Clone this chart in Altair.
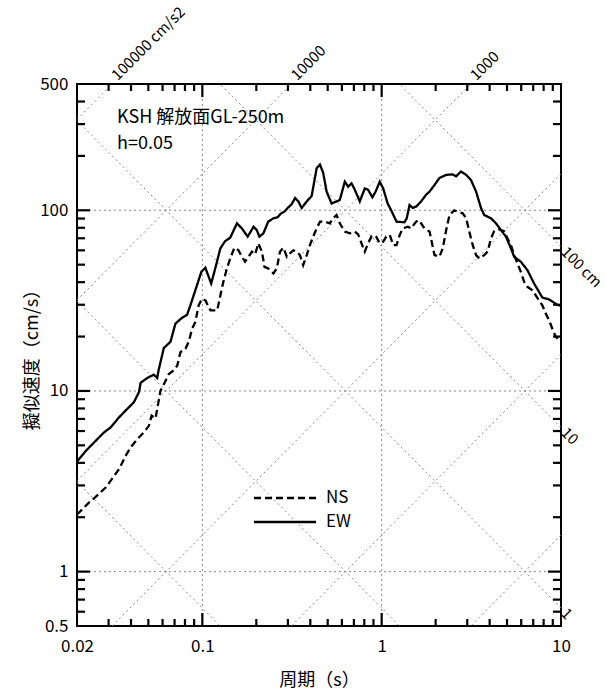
import math
import altair as alt
import pandas as pd

F = "Noto Sans CJK JP"

ew_T = [0.02, 0.0224, 0.0283, 0.0308, 0.0343, 0.0373, 0.0415, 0.0443, 0.0453, 0.0493,
        0.0536, 0.0560, 0.0572, 0.0610, 0.0664, 0.0708, 0.0771, 0.0822, 0.0858, 0.0914,
        0.0987, 0.104, 0.106, 0.112, 0.118, 0.126, 0.134, 0.143, 0.156, 0.166,
        0.179, 0.193, 0.201, 0.208, 0.219, 0.233, 0.249, 0.263, 0.275, 0.287,
        0.299, 0.315, 0.329, 0.343, 0.358, 0.382, 0.407, 0.434, 0.453, 0.472,
        0.493, 0.526, 0.560, 0.584, 0.623, 0.650, 0.679, 0.708, 0.755, 0.805,
        0.839, 0.888, 0.926, 0.975, 1.02, 1.08, 1.13, 1.21, 1.34, 1.38,
        1.43, 1.49, 1.56, 1.66, 1.77, 1.85, 1.97, 2.10, 2.29, 2.49,
        2.60, 2.77, 2.96, 3.15, 3.36, 3.58, 3.73, 4.07, 4.34, 4.62,
        4.93, 5.26, 5.48, 5.97, 6.50, 7.08, 7.55, 7.87, 8.58, 9.53, 10.0]
ew_Sv = [4.06, 4.66, 5.90, 6.28, 7.14, 7.78, 8.65, 9.84, 11.1, 11.8,
         12.3, 11.8, 13.2, 17.3, 18.7, 23.6, 25.4, 26.4, 29.8, 36.1,
         45.6, 48.1, 45.6, 39.3, 47.6, 61.5, 67.5, 70.5, 84.7, 79.4,
         71.5, 81.1, 77.8, 71.5, 74.5, 86.5, 90.3, 91.5, 96.2, 98.3,
         103, 108, 117, 112, 103, 112, 120, 171, 179, 161,
         127, 109, 112, 114, 144, 135, 141, 130, 112, 132,
         130, 118, 127, 144, 132, 109, 100, 86.5, 85.8, 90.3,
         107, 103, 105, 112, 122, 127, 138, 151, 157, 158,
         154, 164, 157, 147, 127, 103, 94.2, 90.3, 84.7, 77.8,
         71.5, 61.5, 55.3, 51.9, 46.6, 39.3, 35.3, 32.9, 32.1, 30.0, 29.6]

ns_T = [0.02, 0.0233, 0.0255, 0.0289, 0.0322, 0.0343, 0.0373, 0.0398, 0.0434, 0.0472,
        0.0503, 0.0521, 0.0548, 0.0560, 0.0584, 0.0610, 0.0650, 0.0693, 0.0724, 0.0755,
        0.0805, 0.0839, 0.0877, 0.0914, 0.0954, 0.0996, 0.104, 0.111, 0.121, 0.126,
        0.131, 0.137, 0.143, 0.151, 0.159, 0.166, 0.173, 0.181, 0.189, 0.197,
        0.205, 0.215, 0.222, 0.233, 0.249, 0.260, 0.271, 0.283, 0.296, 0.308,
        0.322, 0.336, 0.350, 0.365, 0.382, 0.398, 0.415, 0.434, 0.453, 0.483,
        0.514, 0.536, 0.560, 0.584, 0.623, 0.664, 0.708, 0.739, 0.772, 0.805,
        0.839, 0.877, 0.926, 0.975, 1.02, 1.06, 1.11, 1.16, 1.21, 1.26,
        1.31, 1.40, 1.46, 1.53, 1.59, 1.66, 1.73, 1.85, 1.97, 2.10,
        2.19, 2.29, 2.39, 2.54, 2.65, 2.83, 2.96, 3.08, 3.22, 3.36,
        3.50, 3.73, 3.90, 4.07, 4.24, 4.52, 4.82, 5.03, 5.26, 5.48,
        5.72, 5.97, 6.23, 6.50, 6.93, 7.23, 7.55, 7.87, 8.22, 8.58,
        8.95, 9.35, 10.0]
ns_Sv = [2.07, 2.41, 2.60, 2.92, 3.38, 3.69, 4.37, 4.87, 5.41, 5.90,
         6.41, 7.30, 7.05, 7.94, 10.0, 10.9, 12.4, 13.0, 13.8, 16.4,
         17.1, 18.7, 22.1, 24.1, 29.8, 32.4, 31.7, 27.9, 27.9, 33.8,
         40.2, 47.6, 54.1, 62.1, 60.1, 55.3, 51.9, 55.3, 59.0, 57.0,
         65.6, 59.0, 48.6, 47.6, 44.7, 47.6, 59.0, 62.1, 55.3, 57.7,
         60.1, 59.0, 56.5, 49.7, 56.5, 64.1, 71.5, 79.4, 86.5, 86.5,
         84.7, 90.3, 94.2, 84.7, 76.2, 74.5, 76.2, 73.6, 65.6, 59.0,
         65.6, 71.5, 72.3, 65.6, 67.0, 71.5, 72.9, 64.1, 64.1, 72.9,
         79.4, 81.1, 79.4, 84.7, 88.3, 84.7, 79.4, 76.2, 56.5, 55.3,
         61.5, 77.8, 94.2, 100, 98.3, 96.2, 90.3, 76.2, 64.1, 56.5,
         54.1, 56.5, 59.0, 69.9, 76.7, 78.4, 76.7, 69.9, 64.1, 56.5,
         50.8, 45.6, 40.2, 37.7, 36.1, 33.8, 31.7, 29.8, 26.8, 24.6,
         22.1, 19.9, 18.7]

series_names = ["NS", "EW"]

acc_vals = [1, 10, 100, 1000, 10000, 100000]
acc_labels = {100000: "100000 cm/s2", 10000: "10000", 1000: "1000"}
disp_vals = [0.01, 0.1, 1, 10, 100]
disp_labels = {100: "100 cm", 10: "10", 1: "1"}

x_label_vals = [0.02, 0.1, 1, 10]
y_label_vals = [0.5, 1, 10, 100, 500]
x_major = [0.1, 1]
x_minor = [0.03, 0.04, 0.05, 0.06, 0.07, 0.08, 0.09, 0.2, 0.3, 0.4, 0.5, 0.6, 0.7, 0.8, 0.9,
           2, 3, 4, 5, 6, 7, 8, 9]
y_major = [1, 10, 100]
y_minor = [0.6, 0.7, 0.8, 0.9, 2, 3, 4, 5, 6, 7, 8, 9, 20, 30, 40, 50, 60, 70, 80, 90, 200, 300, 400]

Tmin, Tmax = 0.02, 10
Svmin, Svmax = 0.5, 500
W, H = 484, 542
PX = W / math.log10(Tmax / Tmin)
PY = H / math.log10(Svmax / Svmin)

curves = pd.concat([
    pd.DataFrame({"T": ns_T, "Sv": ns_Sv, "series": "NS"}),
    pd.DataFrame({"T": ew_T, "Sv": ew_Sv, "series": "EW"}),
])

diag_rows = []
for a in acc_vals:
    for t in (Tmin, Tmax):
        diag_rows.append({"T": t, "Sv": a * t / (2 * math.pi), "id": f"a{a}"})
for d in disp_vals:
    for t in (Tmin, Tmax):
        diag_rows.append({"T": t, "Sv": 2 * math.pi * d / t, "id": f"d{d}"})
diag = pd.DataFrame(diag_rows)

acc_df = pd.DataFrame([{"T": 2 * math.pi * Svmax / a, "Sv": Svmax, "txt": s} for a, s in acc_labels.items()])
disp_df = pd.DataFrame([{"T": Tmax, "Sv": 2 * math.pi * d / Tmax, "txt": s} for d, s in disp_labels.items()])

# inward frame ticks as small filled rectangles (2 px wide), corners in data units
half_w = 1.1
rect_rows = []
for vals, ln in ((x_minor, 7), (x_major, 13)):
    for v in vals:
        t0, t1 = v * 10 ** (-half_w / PX), v * 10 ** (half_w / PX)
        rect_rows.append({"T": t0, "T2": t1, "Sv": Svmin, "Sv2": Svmin * 10 ** (ln / PY)})
        rect_rows.append({"T": t0, "T2": t1, "Sv": Svmax * 10 ** (-ln / PY), "Sv2": Svmax})
for vals, ln in ((y_minor, 8), (y_major, 13)):
    for v in vals:
        s0, s1 = v * 10 ** (-half_w / PY), v * 10 ** (half_w / PY)
        rect_rows.append({"T": Tmin, "T2": Tmin * 10 ** (ln / PX), "Sv": s0, "Sv2": s1})
        rect_rows.append({"T": Tmax * 10 ** (-ln / PX), "T2": Tmax, "Sv": s0, "Sv2": s1})
ticks_df = pd.DataFrame(rect_rows)

xs = alt.Scale(type="log", domain=[Tmin, Tmax], nice=False)
ys = alt.Scale(type="log", domain=[Svmin, Svmax], nice=False)

xaxis = alt.Axis(values=x_label_vals, format="~g", labelFontSize=17, labelFont=F, labelColor="black",
                 labelPadding=12, labelFlush=False, labelOverlap=False, ticks=False, domain=False,
                 grid=False, titleFontSize=18, titleFont=F, titleFontWeight="normal",
                 titleColor="black", titlePadding=17)
yaxis = alt.Axis(values=y_label_vals, format="~g", labelFontSize=17, labelFont=F, labelColor="black",
                 labelPadding=9, labelFlush=False, labelOverlap=False, ticks=False, domain=False,
                 grid=False, titleFontSize=18, titleFont=F, titleFontWeight="normal",
                 titleColor="black", titlePadding=-2)

XT = "周期（s）"
YT = "擬似速度（cm/s）"


def X(field):
    return alt.X(f"{field}:Q", scale=xs, axis=xaxis, title=XT)


def Y(field):
    return alt.Y(f"{field}:Q", scale=ys, axis=yaxis, title=YT)


grid_style = dict(color="#8a8a8a", strokeWidth=1, strokeDash=[2, 3])

gx = alt.Chart(pd.DataFrame({"T": x_major})).mark_rule(**grid_style).encode(x=X("T"))
gy = alt.Chart(pd.DataFrame({"Sv": y_major})).mark_rule(**grid_style).encode(y=Y("Sv"))

diag_layer = alt.Chart(diag).mark_line(clip=True, **grid_style).encode(
    x=X("T"), y=Y("Sv"), detail="id:N")

ticks_layer = alt.Chart(ticks_df).mark_rect(color="black", opacity=1).encode(
    x=X("T"), x2="T2:Q", y=Y("Sv"), y2="Sv2:Q")

curve_layer = alt.Chart(curves).mark_line(color="black", strokeWidth=2.3, clip=True).encode(
    x=X("T"), y=Y("Sv"),
    strokeDash=alt.StrokeDash("series:N", scale=alt.Scale(domain=series_names, range=[[7, 4], [1, 0]]),
                              legend=None),
    detail="series:N",
)

acc_text = alt.Chart(acc_df).mark_text(angle=315, align="left", baseline="bottom", dx=6, dy=5,
                                       fontSize=15, font=F, color="black").encode(
    x=X("T"), y=Y("Sv"), text="txt:N")
disp_text = alt.Chart(disp_df).mark_text(angle=45, align="left", baseline="middle", dx=4,
                                         fontSize=15, font=F, color="black").encode(
    x=X("T"), y=Y("Sv"), text="txt:N")

ann1 = alt.Chart(pd.DataFrame({"t": ["KSH 解放面GL-250m"]})).mark_text(
    align="left", baseline="middle", fontSize=18, font=F, color="black").encode(
    text="t:N", x=alt.value(40), y=alt.value(34))
ann2 = alt.Chart(pd.DataFrame({"t": ["h=0.05"]})).mark_text(
    align="left", baseline="middle", fontSize=18, font=F, color="black").encode(
    text="t:N", x=alt.value(40), y=alt.value(60))

leg_ns = alt.Chart(pd.DataFrame({"s": ["NS"]})).mark_rule(color="black", strokeWidth=2.3,
                                                          strokeDash=[7, 4]).encode(
    x=alt.value(177), x2=alt.value(239), y=alt.value(414))
leg_ew = alt.Chart(pd.DataFrame({"s": ["EW"]})).mark_rule(color="black", strokeWidth=2.3).encode(
    x=alt.value(177), x2=alt.value(239), y=alt.value(438))
leg_ns_t = alt.Chart(pd.DataFrame({"s": ["NS"]})).mark_text(
    align="left", baseline="middle", fontSize=17, font=F, color="black").encode(
    text="s:N", x=alt.value(249), y=alt.value(414))
leg_ew_t = alt.Chart(pd.DataFrame({"s": ["EW"]})).mark_text(
    align="left", baseline="middle", fontSize=17, font=F, color="black").encode(
    text="s:N", x=alt.value(249), y=alt.value(438))

chart = alt.layer(
    gx, gy, diag_layer, curve_layer, ticks_layer,
    acc_text, disp_text, ann1, ann2, leg_ns, leg_ew, leg_ns_t, leg_ew_t,
).properties(
    width=W, height=H,
    padding={"left": 77, "top": 84, "right": 45, "bottom": 69},
    autosize=alt.AutoSizeParams(type="none"),
    background="white",
).configure_view(stroke="black", strokeWidth=2)

chart.save("out.html", embed_options={"renderer": "svg", "actions": False})
